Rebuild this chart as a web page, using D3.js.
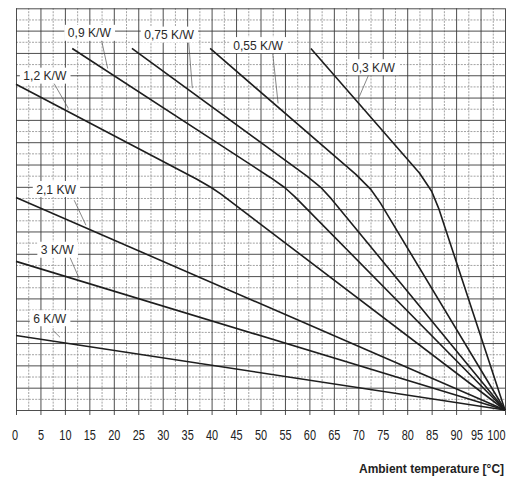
<!DOCTYPE html>
<html>
<head>
<meta charset="utf-8">
<script src="https://cdn.jsdelivr.net/npm/d3@7"></script>
<style>
  html, body { margin: 0; padding: 0; background: #fff; }
  svg { display: block; }
</style>
</head>
<body>
<svg id="chart" width="514" height="480"></svg>
<script>
// ---- data (ambient temperature °C, power W) ----
const tickLabels = ["0","5","10","15","20","25","30","35","40","45","50","55","60","65","70","75","80","85","90","95","100"];
const xTickValues = [0,5,10,15,20,25,30,35,40,45,50,55,60,65,70,75,80,85,90,95,100];

const curve6  = [[0,16.7],[100,0]];
const curve3  = [[0,33.3],[100,0]];
const curve21 = [[0,47.6],[100,0]];
const curve12 = [[0,73],[37,51.7],[40,49.8],[42,48.3],[100,0]];
const curve09 = [[11.5,81],[52,52.1],[55,49.8],[57,47.8],[100,0]];
const curve075 = [[23.7,81],[59.5,52.4],[62.5,49.7],[64.5,47.3],[100,0]];
const curve055 = [[39.7,81],[69.5,52.8],[72.5,49.5],[74.5,46.4],[100,0]];
const curve03 = [[60.3,81],[82.5,53.1],[85,49],[86.5,45],[100,0]];

const labelTexts = ["0,9 K/W","0,75 K/W","0,55 K/W","0,3 K/W","1,2 K/W","2,1 KW","3 K/W","6 K/W"];
const labelAt    = [[15.0,83.5],[31.3,83.1],[49.5,80.75],[73.1,75.8],[5.9,73.9],[8.2,48.5],[8.45,34.9],[6.9,19.55]];
const leaderFrom = [[17.4,83.3],[35.2,84.0],[52.5,79.9],[72.4,75.8],[7.6,73.5],[11.9,47.0],[11.0,34.3],[7.5,17.9]];
const leaderTo   = [[18.75,76.5],[36.05,72.1],[53.6,68.7],[70.2,70.2],[10.7,67.6],[14.3,41.4],[12.9,29.5],[9.0,16.3]];

const xTitle = "Ambient temperature [°C]";

(function () {
const svg = d3.select("#chart");
const mLeft = 16, mRight = 505, mTop = 8.3, mBottom = 410;
const x = d3.scaleLinear().domain([0,100]).range([mLeft, mRight]);
const y = d3.scaleLinear().domain([0,90]).range([mBottom, mTop]);

const FONT = "'Liberation Sans','Arial',sans-serif";
function condense(sel, f) {
  sel.each(function () {
    const w = this.getComputedTextLength();
    d3.select(this).attr("textLength", w * f).attr("lengthAdjust", "spacingAndGlyphs");
  });
}

const minorX = d3.range(2.5, 100, 5);
const majorY = d3.range(0, 90.01, 5);
const minorY = d3.range(2.5, 90, 5);

const grid = svg.append("g");

// minor (dashed) grid
grid.append("g").attr("transform", `translate(0,${mBottom})`)
  .call(d3.axisBottom(x).tickValues(minorX).tickSize(-(mBottom-mTop)).tickFormat(""))
  .call(g => g.select(".domain").remove())
  .selectAll("line").attr("stroke", "#8c8c8c").attr("stroke-width", 0.8).attr("stroke-dasharray", "2,1.2");
grid.append("g").attr("transform", `translate(${mLeft},0)`)
  .call(d3.axisLeft(y).tickValues(minorY).tickSize(-(mRight-mLeft)).tickFormat(""))
  .call(g => g.select(".domain").remove())
  .selectAll("line").attr("stroke", "#8c8c8c").attr("stroke-width", 0.8).attr("stroke-dasharray", "2,1.2");

// major (solid) grid
grid.append("g").attr("transform", `translate(0,${mBottom})`)
  .call(d3.axisBottom(x).tickValues(xTickValues).tickSize(-(mBottom-mTop)).tickFormat(""))
  .call(g => g.select(".domain").remove())
  .selectAll("line").attr("stroke", "#3a3a3a").attr("stroke-width", 0.9);
grid.append("g").attr("transform", `translate(${mLeft},0)`)
  .call(d3.axisLeft(y).tickValues(majorY).tickSize(-(mRight-mLeft)).tickFormat(""))
  .call(g => g.select(".domain").remove())
  .selectAll("line").attr("stroke", "#3a3a3a").attr("stroke-width", 0.9);

// bottom axis with ticks & labels
const xAxis = svg.append("g").attr("transform", `translate(0,${mBottom})`)
  .call(d3.axisBottom(x).tickValues(xTickValues).tickSize(5).tickPadding(15)
        .tickFormat((d,i) => tickLabels[i]));
xAxis.select(".domain").remove();
xAxis.selectAll("line").attr("stroke", "#3a3a3a").attr("stroke-width", 0.9);
xAxis.selectAll("text")
  .attr("font-family", FONT)
  .attr("font-size", 14).attr("fill", "#222")
  .call(condense, 0.78);
xAxis.selectAll(".tick").filter(d => d === 0).select("text").attr("x", -1.5);
xAxis.selectAll(".tick").filter(d => d === 95).select("text").attr("x", -4);
xAxis.selectAll(".tick").filter(d => d === 100).select("text").attr("text-anchor", "end").attr("x", 0);

// leaders
const lg = svg.append("g");
labelTexts.forEach((t, i) => {
  lg.append("line")
    .attr("x1", x(leaderFrom[i][0])).attr("y1", y(leaderFrom[i][1]))
    .attr("x2", x(leaderTo[i][0])).attr("y2", y(leaderTo[i][1]))
    .attr("stroke", "#555").attr("stroke-width", 0.7);
});

// curves
const line = d3.line().x(d => x(d[0])).y(d => y(d[1]));
const curves = [curve6, curve3, curve21, curve12, curve09, curve075, curve055, curve03];
svg.append("g").selectAll("path").data(curves).join("path")
  .attr("d", line).attr("fill", "none").attr("stroke", "#1e1e1e")
  .attr("stroke-width", 1.6).attr("stroke-linejoin", "round");

// labels with white boxes
const lab = svg.append("g");
labelTexts.forEach((t, i) => {
  const g = lab.append("g");
  const txt = g.append("text")
    .attr("x", x(labelAt[i][0])).attr("y", y(labelAt[i][1]))
    .attr("text-anchor", "middle")
    .attr("font-family", FONT)
    .attr("font-size", 13).attr("fill", "#2a2a2a").text(t)
    .call(condense, 0.93);
  const bb = txt.node().getBBox();
  g.insert("rect", "text")
    .attr("x", bb.x - 3.5).attr("y", bb.y - 0.5)
    .attr("width", bb.width + 7).attr("height", bb.height + 1)
    .attr("fill", "#fff");
});

// axis title
svg.append("text")
  .attr("x", mRight - 1).attr("y", 473)
  .attr("text-anchor", "end")
  .attr("font-family", FONT)
  .attr("font-weight", "bold").attr("font-size", 12.5).attr("fill", "#222")
  .text(xTitle)
  .call(sel => sel.attr("textLength", 145).attr("lengthAdjust", "spacingAndGlyphs"));
})();
</script>
</body>
</html>
